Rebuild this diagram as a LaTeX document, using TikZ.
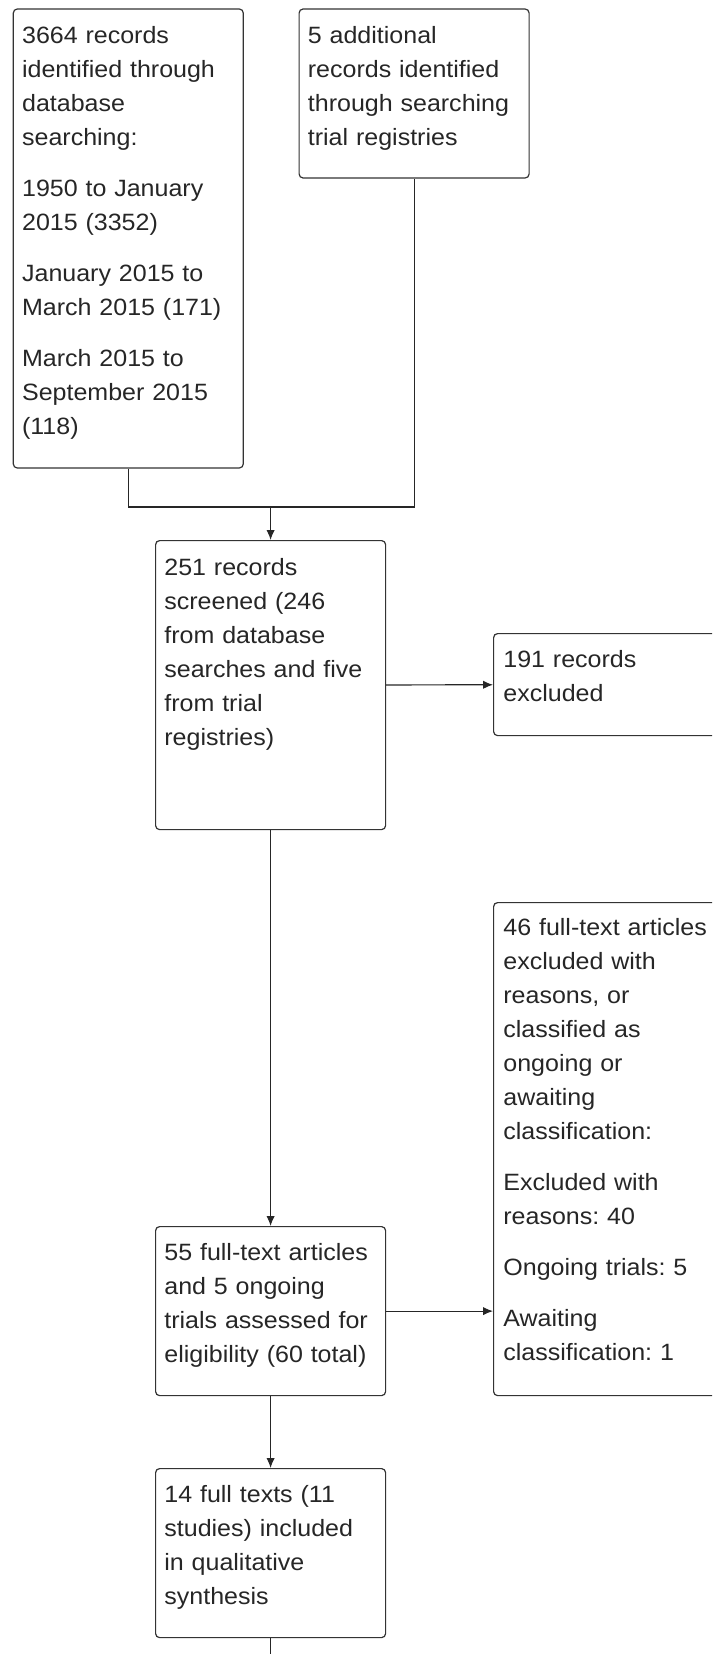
\documentclass[tikz,border=0pt]{standalone}
\usepackage{fontspec}
\setmainfont{Liberation Sans}[FakeStretch=1.06]
\usetikzlibrary{arrows.meta}
\frenchspacing

\begin{document}
\begin{tikzpicture}[x=0.5pt, y=-0.5pt, >={Latex[length=5pt,width=4.2pt]},
    box/.style={draw=black!80, line width=0.6pt, rounded corners=2pt, inner sep=0pt,
                anchor=north west, minimum width=115pt},
    txt/.style={anchor=north west, inner sep=0pt, text width=108pt, align=left,
                text=black!85, font=\fontsize{11.8}{17}\selectfont},
    link/.style={draw=black!85, line width=0.6pt}]
    \useasboundingbox (0,0) rectangle (712,1654);
    \clip (0,0) rectangle (712,1654);
    % boxes
    \node[box, minimum height=229.5pt] (search)   at (12.7,8.4) {};
    \node[box, minimum height=84.5pt]  (registry) at (298.5,8.4) {};
    \node[box, minimum height=144.5pt] (screened) at (155,540) {};
    \node[box, minimum height=51pt]    (excluded) at (493,633) {};
    \node[box, minimum height=246.5pt] (ftexcl)   at (493,902) {};
    \node[box, minimum height=84.5pt]  (assessed) at (155,1226) {};
    \node[box, minimum height=84.5pt]  (included) at (155,1468) {};
    % texts
    \node[txt] (searchtext) at ([shift={(4.5pt,-5.5pt)}]search.north west)
        {\strut 3664 records\\ identified through\\ database\\ searching:\\[8.5pt]
         1950 to January\\ 2015 (3352)\\[8.5pt]
         January 2015 to\\ March 2015 (171)\\[8.5pt]
         March 2015 to\\ September 2015\\ (118)};
    \node[txt] (registrytext) at ([shift={(4.5pt,-5.5pt)}]registry.north west)
        {\strut 5 additional\\ records identified\\ through searching\\ trial registries};
    \node[txt] (screenedtext) at ([shift={(4.5pt,-5.5pt)}]screened.north west)
        {\strut 251 records\\ screened (246\\ from database\\ searches and five\\ from trial\\ registries)};
    \node[txt] (excludedtext) at ([shift={(5pt,-5.2pt)}]excluded.north west)
        {\strut 191 records\\ excluded};
    \node[txt] (ftexcltext) at ([shift={(5pt,-4.6pt)}]ftexcl.north west)
        {\strut 46 full-text articles\\ excluded with\\ reasons, or\\ classified as\\ ongoing or\\ awaiting\\ classification:\\[8.5pt]
         Excluded with\\ reasons: 40\\[8.5pt]
         Ongoing trials: 5\\[8.5pt]
         Awaiting\\ classification: 1};
    \node[txt] (assessedtext) at ([shift={(4.5pt,-5pt)}]assessed.north west)
        {\strut 55 full-text articles\\ and 5 ongoing\\ trials assessed for\\ eligibility (60 total)};
    \node[txt] (includedtext) at ([shift={(4.5pt,-5pt)}]included.north west)
        {\strut 14 full texts (11\\ studies) included\\ in qualitative\\ synthesis};
    % connectors
    \coordinate (join) at (screened.north |- 0,507);
    \coordinate (onward) at (included.south |- 0,1670);
    \draw[link] (search.south) -- (search.south |- join) -- (registry.south |- join) -- (registry.south);
    \draw[link, ->] (join) -- (screened.north);
    \draw[link, ->] (screened) -- (excluded);
    \draw[link, ->] (screened.south) -- (assessed.north);
    \draw[link, ->] (assessed.east) -- (assessed.east -| ftexcl.west);
    \draw[link, ->] (assessed.south) -- (included.north);
    \draw[link] (included.south) -- (onward);
\end{tikzpicture}
\end{document}
